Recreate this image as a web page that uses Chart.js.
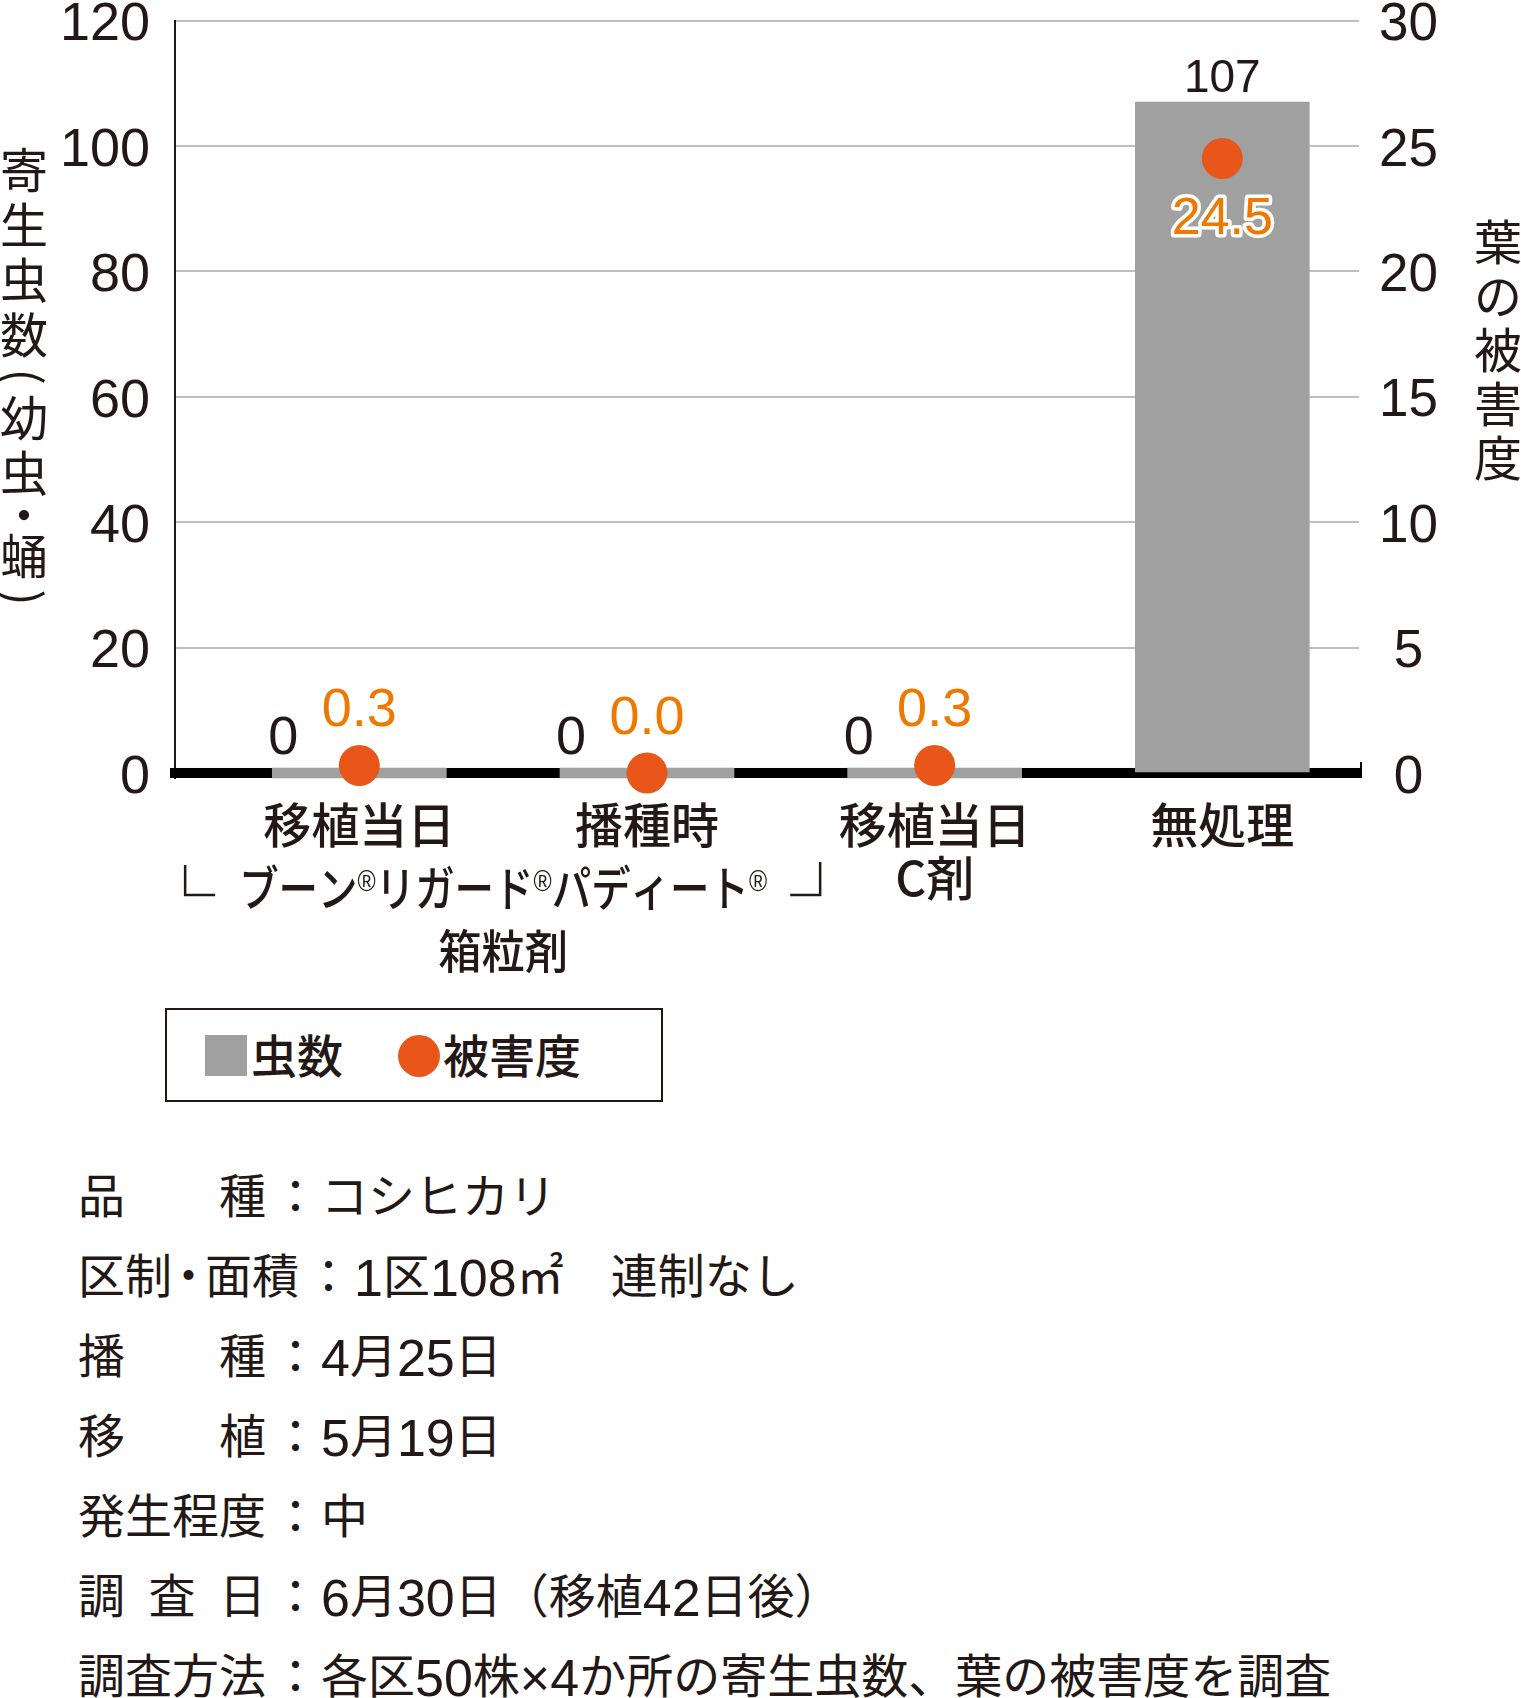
<!DOCTYPE html>
<html lang="ja">
<head>
<meta charset="utf-8">
<title>寄生虫数と葉の被害度</title>
<script src="https://cdn.jsdelivr.net/npm/chart.js@4.4.1/dist/chart.umd.min.js"></script>
<style>
html, body { margin: 0; padding: 0; background: #fff; overflow: hidden; }
body { width: 1521px; height: 1698px; position: relative; font-family: 'Noto Sans CJK JP', sans-serif; color: #231815; }
#c { position: absolute; left: 0; top: 0; }
#legend { position: absolute; left: 165px; top: 1008px; width: 494px; height: 90px; border: 2px solid #231815; }
#legend .sw { position: absolute; }
#legend .tx { position: absolute; font-size: 46px; line-height: 46px; white-space: nowrap; font-weight: 500; }
#notes { position: absolute; left: 78px; top: 1153px; font-size: 47px; line-height: 80px; white-space: nowrap; }
#notes .row { height: 80px; }
#notes .lab { display: inline-block; min-width: 188px; text-align: justify; text-align-last: justify; }
#notes .col { margin-left: 6px; }
#notes .val { padding-left: 2px; }
#notes .d { font-family: 'Liberation Sans', Arial, sans-serif; font-size: 52px; vertical-align: -3px; line-height: 0; }
#notes .dot { margin: 0 -7px; }
</style>
</head>
<body>
<canvas id="c" width="1521" height="1000"></canvas>
<div id="legend"></div>
<div id="notes"></div>
<script>
// ---------- data ----------
const categories = [['移植当日'], ['播種時'], ['移植当日', 'C剤'], ['無処理']];
const wormCounts = [0, 0, 0, 107];          // 寄生虫数（幼虫・蛹）
const damageDegree = [0.3, 0.0, 0.3, 24.5]; // 葉の被害度
const leftTicks = [0, 20, 40, 60, 80, 100, 120];
const rightTicks = [0, 5, 10, 15, 20, 25, 30];
const seriesNames = ['虫数', '被害度'];
const leftTitle = ['寄', '生', '虫', '数', '（', '幼', '虫', '・', '蛹', '）'];
const rightTitle = ['葉', 'の', '被', '害', '度'];
const groupTitle = ['ブーン', '®', 'リガード', '®', 'パディート', '®'];
const groupSub = ['箱粒剤'];
const groupSpan = [0, 1];
const noteLabels = ['品種', '区制・面積', '播種', '移植', '発生程度', '調査日', '調査方法'];
const noteValues = ['コシヒカリ', '1区108㎡　連制なし', '4月25日', '5月19日', '中', '6月30日（移植42日後）', '各区50株×4か所の寄生虫数、葉の被害度を調査'];

// ---------- styles ----------
const INK = '#231815';
const BAR = '#A0A0A0';
const DOT = '#E8561A';
const ORANGE_TXT = '#EE7800';
const GRID = '#BFBFBF';
const NUM = "'Liberation Sans', Arial, sans-serif";
const JP = "'Noto Sans CJK JP', sans-serif";
const CANVAS_H = 1000;
const Y_MIN = -0.8;

// ---------- plugins ----------
const baselinePlugin = {
  id: 'baseline',
  beforeDatasetsDraw(chart) {
    const { ctx, chartArea } = chart;
    const y = chart.scales.y.getPixelForValue(0);
    ctx.save();
    ctx.fillStyle = '#000';
    ctx.fillRect(chartArea.left - 5, y - 5, chartArea.right - chartArea.left + 8, 10);
    ctx.fillRect(chartArea.right + 1, y - 11, 2, 16);
    ctx.restore();
  }
};

const valueLabelPlugin = {
  id: 'valueLabels',
  afterDatasetsDraw(chart) {
    const ctx = chart.ctx;
    const ys = chart.scales.y;
    const barMeta = chart.getDatasetMeta(0);
    const ptMeta = chart.getDatasetMeta(1);
    const zero = ys.getPixelForValue(0);
    ctx.save();
    ctx.textAlign = 'center';
    ctx.textBaseline = 'middle';
    barMeta.data.forEach((bar, i) => {
      const v = wormCounts[i];
      const top = ys.getPixelForValue(v);
      const low = (zero - top) < 30;
      ctx.fillStyle = INK;
      if (low) {
        ctx.font = `54px ${NUM}`;
        ctx.fillText(String(v), bar.x - 76, top - 34);
      } else {
        ctx.font = `46px ${NUM}`;
        ctx.fillText(String(v), bar.x, top - 23);
      }
    });
    ptMeta.data.forEach((pt, i) => {
      const txt = damageDegree[i].toFixed(1);
      const barTop = barMeta.data[i].y;
      const inside = pt.y > barTop + 20;
      if (inside) {
        ctx.font = `52px ${NUM}`;
        ctx.lineJoin = 'round';
        ctx.lineWidth = 7;
        ctx.strokeStyle = '#fff';
        ctx.strokeText(txt, pt.x, pt.y + 61);
        ctx.fillStyle = ORANGE_TXT;
        ctx.fillText(txt, pt.x, pt.y + 61);
      } else {
        ctx.font = `54px ${NUM}`;
        ctx.fillStyle = ORANGE_TXT;
        ctx.fillText(txt, pt.x, pt.y - 54);
      }
    });
    ctx.restore();
  }
};

const groupLabelPlugin = {
  id: 'groupLabel',
  afterDraw(chart) {
    const ctx = chart.ctx;
    const xs = chart.scales.x;
    const cx = (xs.getPixelForValue(groupSpan[0]) + xs.getPixelForValue(groupSpan[1])) / 2;
    const zero = chart.scales.y.getPixelForValue(0);
    const y1 = zero + 115;
    const y2 = zero + 178;
    const mainFont = `500 48px ${JP}`;
    const regFont = `30px ${NUM}`;
    ctx.save();
    ctx.fillStyle = INK;
    ctx.textBaseline = 'middle';
    ctx.textAlign = 'left';
    const widths = groupTitle.map(p => { ctx.font = p === '®' ? regFont : mainFont; return ctx.measureText(p).width; });
    const natural = widths.reduce((a, b) => a + b, 0);
    const target = 528;
    const k = target / natural;
    ctx.save();
    ctx.translate(cx - target / 2, y1);
    ctx.scale(k, 1);
    let xx = 0;
    groupTitle.forEach((p, i) => {
      if (p === '®') { ctx.font = regFont; ctx.fillText(p, xx, -5); }
      else { ctx.font = mainFont; ctx.fillText(p, xx, 0); }
      xx += widths[i];
    });
    ctx.restore();
    // brackets
    ctx.strokeStyle = INK;
    ctx.lineWidth = 2.5;
    const L = cx - target / 2, R = cx + target / 2;
    ctx.beginPath();
    ctx.moveTo(L - 54, y1 - 23); ctx.lineTo(L - 54, y1 + 7); ctx.lineTo(L - 24, y1 + 7);
    ctx.moveTo(R + 23, y1 + 7); ctx.lineTo(R + 53, y1 + 7); ctx.lineTo(R + 53, y1 - 26);
    ctx.stroke();
    // sub line
    ctx.textAlign = 'center';
    ctx.font = `500 46px ${JP}`;
    ctx.fillText(groupSub[0], cx, y2, 130);
    ctx.restore();
  }
};

function drawStack(ctx, chars, x, firstCenter, full, half, font) {
  let top = firstCenter - full / 2;
  chars.forEach(c => {
    const isHalf = c === '（' || c === '）' || c === '・';
    const adv = isHalf ? half : full;
    const cy = top + adv / 2;
    ctx.save();
    ctx.font = font;
    ctx.textAlign = 'center';
    ctx.textBaseline = 'middle';
    ctx.fillStyle = INK;
    if (c === '（' || c === '）') {
      ctx.translate(x, cy);
      ctx.rotate(Math.PI / 2);
      ctx.fillText(c === '（' ? '(' : ')', 0, 0);
    } else {
      ctx.fillText(c, x, cy);
    }
    ctx.restore();
    top += adv;
  });
}

const axisTitlePlugin = {
  id: 'axisTitles',
  afterDraw(chart) {
    const ctx = chart.ctx;
    drawStack(ctx, leftTitle, 24, 170, 55, 28, `48px ${JP}`);
    drawStack(ctx, rightTitle, 1498, 242, 54, 27, `48px ${JP}`);
  }
};

// ---------- chart ----------
const ctx = document.getElementById('c').getContext('2d');
new Chart(ctx, {
  type: 'bar',
  data: {
    datasets: [
      {
        type: 'bar',
        label: seriesNames[0],
        data: wormCounts.map((v, i) => ({ x: i, y: v })),
        backgroundColor: BAR,
        borderWidth: 0,
        barThickness: 174,
        minBarLength: 10,
        yAxisID: 'y',
        clip: false,
        order: 2
      },
      {
        type: 'line',
        label: seriesNames[1],
        data: damageDegree.map((v, i) => ({ x: i, y: v })),
        yAxisID: 'y2',
        showLine: false,
        pointRadius: 20.5,
        pointHoverRadius: 20.5,
        pointBackgroundColor: DOT,
        pointBorderWidth: 0,
        backgroundColor: DOT,
        borderColor: DOT,
        clip: false,
        order: 1
      }
    ]
  },
  options: {
    responsive: false,
    animation: false,
    events: [],
    layout: { padding: { top: 15, left: 0, right: 0, bottom: 0 } },
    plugins: { legend: { display: false }, tooltip: { enabled: false } },
    scales: {
      x: {
        type: 'linear',
        position: 'bottom',
        min: -0.6407,
        max: 3.4751,
        offset: false,
        grid: { display: false, drawTicks: false },
        border: { display: false },
        afterBuildTicks: s => { s.ticks = categories.map((_, i) => ({ value: i })); },
        afterFit: s => { s.height = CANVAS_H - 778; s.paddingLeft = 0; s.paddingRight = 0; },
        ticks: {
          autoSkip: false, maxRotation: 0, minRotation: 0, padding: 20, color: INK,
          font: { family: JP, size: 48, weight: '500', lineHeight: 1.104 },
          callback: v => categories[v]
        }
      },
      y: {
        type: 'linear',
        position: 'left',
        min: Y_MIN,
        max: 120,
        afterBuildTicks: s => { s.ticks = leftTicks.map(v => ({ value: v })); },
        afterFit: s => { s.width = 175; s.paddingTop = 0; s.paddingBottom = 0; },
        grid: { color: GRID, lineWidth: 2, drawTicks: false },
        border: { display: true, color: INK, width: 2 },
        ticks: { padding: 25, labelOffset: 5, color: INK, font: { family: NUM, size: 54 }, callback: v => String(v) }
      },
      y2: {
        type: 'linear',
        position: 'right',
        min: Y_MIN * 30 / 120,
        max: 30,
        afterBuildTicks: s => { s.ticks = rightTicks.map(v => ({ value: v })); },
        afterFit: s => { s.width = 162; s.paddingTop = 0; s.paddingBottom = 0; },
        grid: { display: false, drawOnChartArea: false, drawTicks: false },
        border: { display: false },
        ticks: { padding: 20, crossAlign: 'center', labelOffset: 5, color: INK, font: { family: NUM, size: 53 }, callback: v => String(v) }
      }
    }
  },
  plugins: [baselinePlugin, valueLabelPlugin, groupLabelPlugin, axisTitlePlugin]
});

// ---------- legend (HTML) ----------
const legend = document.getElementById('legend');
legend.innerHTML =
  `<div class="sw" style="left:38px;top:25px;width:42px;height:41px;background:${BAR}"></div>` +
  `<div class="tx" style="left:84px;top:20px">${seriesNames[0]}</div>` +
  `<div class="sw" style="left:231px;top:25px;width:42px;height:42px;border-radius:50%;background:${DOT}"></div>` +
  `<div class="tx" style="left:276px;top:20px">${seriesNames[1]}</div>`;

// ---------- notes ----------
const notes = document.getElementById('notes');
noteLabels.forEach((lab, i) => {
  const row = document.createElement('div');
  row.className = 'row';
  const labHtml = lab.replace('・', '<span class="dot">・</span>');
  const valHtml = noteValues[i].replace(/[0-9×]+/g, m => `<span class="d">${m}</span>`);
  row.innerHTML = `<span class="lab">${labHtml}</span><span class="col">：</span><span class="val">${valHtml}</span>`;
  notes.appendChild(row);
});
</script>
</body>
</html>
